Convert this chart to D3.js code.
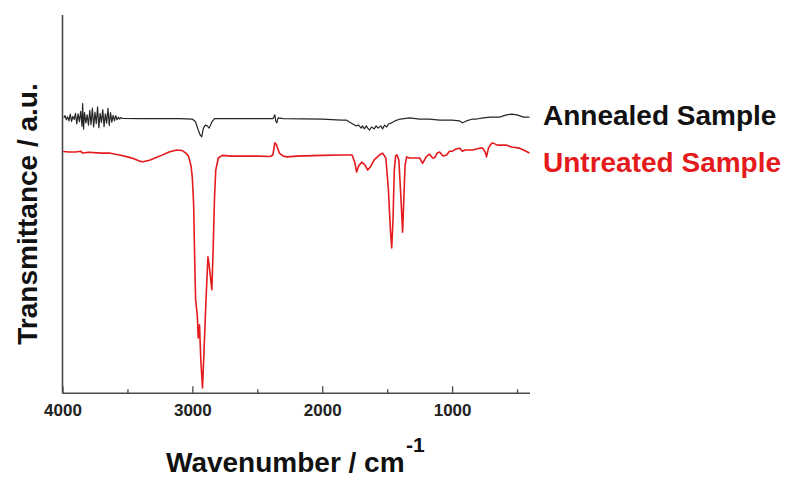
<!DOCTYPE html>
<html>
<head>
<meta charset="utf-8">
<script src="https://cdn.jsdelivr.net/npm/d3@7"></script>
<style>
  html, body { margin: 0; padding: 0; background: #fff; }
  svg { display: block; }
</style>
</head>
<body>
<svg id="chart" width="788" height="477"></svg>
<script>
// ---- Data ----
const xTicksMajor = [4000, 3000, 2000, 1000];
const xTicksMinor = [3500, 2500, 1500, 500];
const seriesNames = ["Annealed Sample", "Untreated Sample"];

const annealedWavenumber = [3990,3980,3970,3960,3950,3940,3930,3920,3910,3900,3890,3880,3870,3860,3850,3845,3838,3830,3820,3810,3800,3790,3780,3770,3760,3750,3740,3730,3720,3710,3700,3690,3680,3670,3660,3650,3640,3630,3620,3610,3600,3590,3580,3570,3560,3550,3540,3400,3100,3000,2975,2955,2940,2928,2915,2900,2885,2870,2850,2830,2600,2380,2365,2358,2350,2340,2300,2000,1850,1812,1790,1765,1740,1720,1700,1690,1675,1660,1650,1635,1620,1600,1585,1570,1550,1535,1520,1504,1490,1465,1440,1400,1327,1250,1173,1096,1000,942,919,890,842,812,760,700,635,581,542,500,450,404];
const annealedT = [72.8,73.4,72.3,73.1,72.0,73.8,71.9,73.2,72.4,74.0,71.2,73.9,71.8,74.5,70.6,76.6,69.8,74.2,71.5,73.6,70.9,74.8,71.0,75.4,70.4,74.3,71.3,75.7,70.2,74.0,71.6,75.0,70.5,73.9,71.4,75.3,70.8,74.2,71.7,73.5,72.0,73.4,72.3,73.0,72.5,72.9,72.7,72.6,72.6,72.5,71.7,69.6,68.3,67.8,70.1,70.9,70.7,70.1,71.7,72.6,72.6,72.6,73.6,72.0,71.5,72.8,72.6,72.5,72.2,72.2,71.7,71.2,70.7,70.9,70.1,70.7,69.9,70.7,70.1,69.6,70.4,69.9,70.7,70.1,70.7,69.9,70.9,70.4,71.2,71.5,72.0,72.5,72.8,72.5,72.5,72.2,72.2,72.0,71.5,72.0,72.5,72.5,72.8,73.0,73.0,73.6,73.8,73.6,73.0,73.0];

const untreatedWavenumber = [3995,3950,3900,3860,3845,3800,3700,3640,3560,3500,3450,3400,3380,3330,3250,3180,3120,3080,3050,3030,3010,3000,2990,2982,2975,2962,2955,2945,2935,2922,2910,2895,2880,2868,2850,2840,2830,2820,2800,2770,2700,2500,2400,2380,2365,2355,2330,2300,2270,2200,2000,1850,1770,1750,1735,1720,1696,1670,1650,1630,1600,1560,1535,1510,1490,1475,1465,1455,1445,1435,1425,1410,1395,1381,1372,1362,1350,1330,1300,1250,1227,1200,1173,1150,1135,1115,1096,1070,1042,1020,996,970,942,920,900,870,842,812,790,765,745,735,720,700,688,650,600,581,542,481,450,404];
const untreatedT = [63.9,63.8,63.8,64.0,63.5,63.7,63.5,63.5,63.0,62.5,62.0,61.3,61.2,61.6,62.7,63.8,64.3,64.2,63.5,62.7,60.1,56.9,49.8,35.3,24.7,20.7,14.6,18.1,8.8,1.4,11.4,24.7,36.1,33.1,27.4,37.9,51.1,59.0,62.2,62.9,62.7,62.7,62.6,63.0,66.2,65.9,63.5,62.7,62.5,62.7,62.9,63.0,63.0,61.1,58.5,60.1,61.1,60.3,59.0,59.8,61.7,63.0,63.5,62.2,53.7,43.2,38.4,45.8,59.0,62.7,63.0,61.7,52.4,42.6,51.1,60.3,62.5,62.2,62.2,62.2,60.8,62.5,63.2,62.2,62.2,63.5,63.8,62.7,63.0,64.0,64.0,64.6,64.8,64.0,64.3,64.3,64.3,64.6,64.8,64.8,63.8,62.5,64.8,65.9,66.2,65.6,65.6,65.6,65.1,64.8,64.3,63.5];

// ---- Layout ----
const svg = d3.select("#chart");
const plotLeft = 62.5, plotRight = 530, plotTop = 15, plotBottom = 393.3;
const x = d3.scaleLinear().domain([4000, 400]).range([plotLeft, plotRight]);
const y = d3.scaleLinear().domain([0, 100]).range([plotBottom, plotTop]);
const axisColor = "#4a4a4a";
const red = "#e41a1c";
const font = "Liberation Sans, Arial, sans-serif";

// y axis line
svg.append("line").attr("x1", plotLeft).attr("x2", plotLeft).attr("y1", plotTop).attr("y2", plotBottom)
  .attr("stroke", axisColor).attr("stroke-width", 1.6);

// x axis (major ticks with labels)
const xAxisMajor = d3.axisBottom(x).tickValues(xTicksMajor).tickSizeInner(-7).tickSizeOuter(0).tickPadding(16).tickFormat(d3.format("d"));
const gx = svg.append("g").attr("transform", `translate(0,${plotBottom})`).call(xAxisMajor);
gx.select(".domain").attr("stroke", axisColor).attr("stroke-width", 1.6).attr("d", `M${plotLeft},0H${plotRight}`);
gx.selectAll(".tick line").attr("stroke", axisColor).attr("stroke-width", 1.3);
gx.selectAll(".tick text").attr("fill", "#222").attr("font-family", font)
  .attr("font-weight", "bold").attr("font-size", 17).attr("dy", "0").attr("y", 23);
// minor ticks
const xAxisMinor = d3.axisBottom(x).tickValues(xTicksMinor).tickSizeInner(-4).tickSizeOuter(0).tickFormat("");
const gm = svg.append("g").attr("transform", `translate(0,${plotBottom})`).call(xAxisMinor);
gm.select(".domain").remove();
gm.selectAll(".tick line").attr("stroke", axisColor).attr("stroke-width", 1.3);

// series
const line = d3.line().x(d => x(d[0])).y(d => y(d[1]));
const annealed = annealedWavenumber.map((w, i) => [w, annealedT[i]]);
const untreated = untreatedWavenumber.map((w, i) => [w, untreatedT[i]]);

svg.append("path").datum(untreated).attr("d", line).attr("fill", "none")
  .attr("stroke", red).attr("stroke-width", 1.6).attr("stroke-linejoin", "round");
svg.append("path").datum(annealed).attr("d", line).attr("fill", "none")
  .attr("stroke", "#262626").attr("stroke-width", 1.2).attr("stroke-linejoin", "round");

// series labels
svg.append("text").attr("x", 543).attr("y", 125).text(seriesNames[0])
  .attr("font-family", font).attr("font-weight", "bold").attr("font-size", 28).attr("fill", "#111");
svg.append("text").attr("x", 543).attr("y", 172).text(seriesNames[1])
  .attr("font-family", font).attr("font-weight", "bold").attr("font-size", 28).attr("fill", red);

// axis titles
svg.append("text").attr("transform", "translate(37,214) rotate(-90)").attr("text-anchor", "middle")
  .attr("font-family", font).attr("font-weight", "bold").attr("font-size", 28).attr("fill", "#111")
  .text("Transmittance / a.u.");
svg.append("text").attr("x", 166).attr("y", 472)
  .attr("font-family", font).attr("font-weight", "bold").attr("font-size", 28).attr("fill", "#111")
  .text("Wavenumber / cm");
svg.append("text").attr("x", 406).attr("y", 452)
  .attr("font-family", font).attr("font-weight", "bold").attr("font-size", 21).attr("fill", "#111").text("-1");
</script>
</body>
</html>
